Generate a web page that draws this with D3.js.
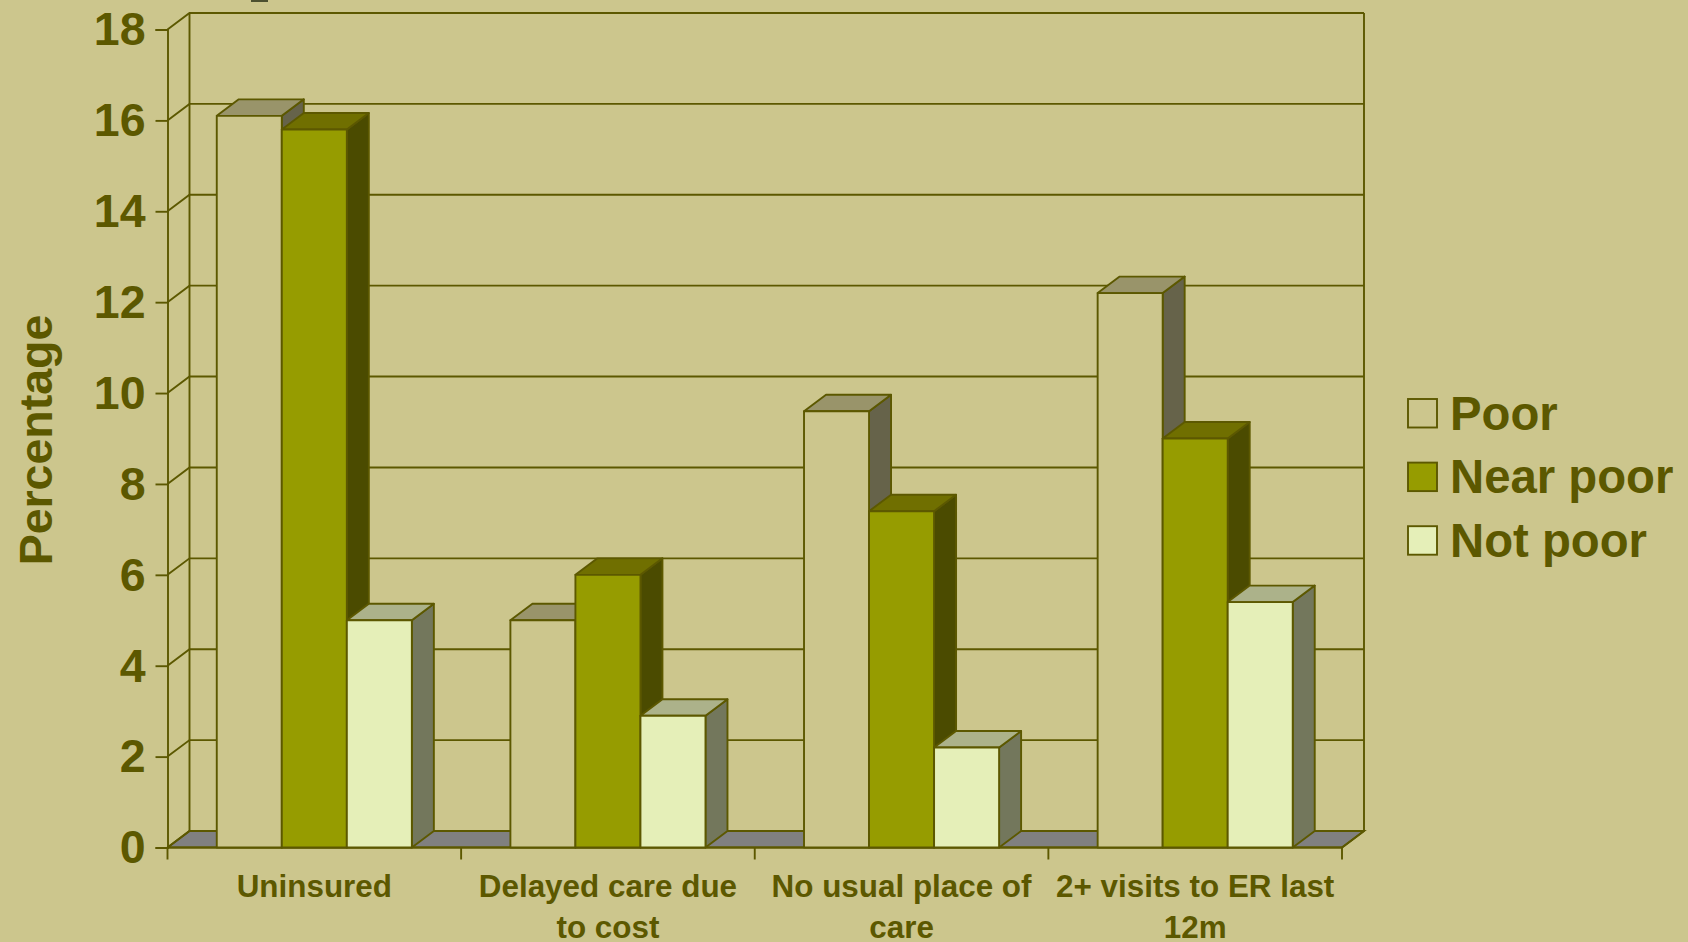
<!DOCTYPE html>
<html>
<head>
<meta charset="utf-8">
<script src="https://cdn.jsdelivr.net/npm/d3@7"></script>
<style>
  html, body { margin: 0; padding: 0; background: #ccc68d; overflow: hidden; }
  text { font-family: "Liberation Sans", Arial, sans-serif; font-weight: bold; fill: #5c5800; }
</style>
</head>
<body>
<svg></svg>
<script>
var categories = ["Uninsured", "Delayed care due to cost", "No usual place of care", "2+ visits to ER last 12m"];
var seriesNames = ["Poor", "Near poor", "Not poor"];
var poor = [16.1, 5.0, 9.6, 12.2];
var nearPoor = [15.8, 6.0, 7.4, 9.0];
var notPoor = [5.0, 2.9, 2.2, 5.4];
var seriesValues = [poor, nearPoor, notPoor];
var yTicks = [0, 2, 4, 6, 8, 10, 12, 14, 16, 18];
var categoryLines = [["Uninsured"], ["Delayed care due", "to cost"], ["No usual place of", "care"], ["2+ visits to ER last", "12m"]];

var width = 1688;
var height = 942;
var line = "#5c5800";
var lineWidth = 1.9;
var depthX = 22;   /*3d offset of the back wall*/
var depthY = 16.5;

// front, top and side colours per series
var faces = [
  {front: "#ccc68d", top: "#99946a", side: "#66634a"},
  {front: "#969c00", top: "#706f00", side: "#4b4b00"},
  {front: "#e5efb8", top: "#acb28a", side: "#73775c"}
];

var svg = d3.select("svg")
            .attr("width", width)
            .attr("height", height)
            .style("display", "block");

var y = d3.scaleLinear().domain([0, 18]).range([847.5, 29.5]);

var x0 = d3.scaleBand()
           .domain(categories)
           .range([167.5, 1342])
           .paddingInner(0.3356)
           .paddingOuter(0.1678);

var x1 = d3.scaleBand()
           .domain(seriesNames)
           .range([0, x0.bandwidth()]);

var left = x0.range()[0];
var right = x0.range()[1];

function poly(points)
{
  return points.map(function(p) { return p.join(","); }).join(" ");
}

/*tail of the heading that runs off the top edge*/
svg.append("rect")
   .attr("x", 251)
   .attr("y", 0)
   .attr("width", 17)
   .attr("height", 2)
   .attr("fill", "#4c5030");

/*grey floor*/
svg.append("polygon")
   .attr("points", poly([[left, y(0)], [left + depthX, y(0) - depthY], [right + depthX, y(0) - depthY], [right, y(0)]]))
   .attr("fill", "#808080")
   .attr("stroke", line)
   .attr("stroke-width", lineWidth);

/*back wall, its gridlines and the slanted side lines*/
var grid = svg.append("g")
              .attr("fill", "none")
              .attr("stroke", line)
              .attr("stroke-width", lineWidth);

grid.selectAll("path")
    .data(yTicks)
    .enter()
    .append("path")
    .attr("d", function(d)
    {
      return "M" + left + "," + y(d) + "L" + (left + depthX) + "," + (y(d) - depthY) + "H" + (right + depthX);
    });

grid.append("path")
    .attr("d", "M" + (left + depthX) + "," + (y(18) - depthY) + "V" + (y(0) - depthY));
grid.append("path")
    .attr("d", "M" + (right + depthX) + "," + (y(18) - depthY) + "V" + (y(0) - depthY) + "L" + right + "," + y(0));

/*y axis*/
var yAxis = d3.axisLeft(y)
              .tickValues(yTicks)
              .tickSize(12)
              .tickPadding(10);

var yGroup = svg.append("g")
                .attr("transform", "translate(" + left + ",0)")
                .call(yAxis);
yGroup.select(".domain").attr("stroke", line).attr("stroke-width", lineWidth);
yGroup.selectAll(".tick line").attr("stroke", line).attr("stroke-width", lineWidth);
yGroup.selectAll(".tick text")
      .attr("font-size", 46.5)
      .attr("font-family", null)
      .attr("dy", "0.33em");

/*x axis baseline with ticks at the category edges*/
svg.append("line")
   .attr("x1", left).attr("x2", right)
   .attr("y1", y(0)).attr("y2", y(0))
   .attr("stroke", line).attr("stroke-width", lineWidth);

svg.selectAll(".xtick")
   .data(d3.range(categories.length + 1))
   .enter()
   .append("line")
   .attr("class", "xtick")
   .attr("x1", function(i) { return left + i * x0.step(); })
   .attr("x2", function(i) { return left + i * x0.step(); })
   .attr("y1", y(0))
   .attr("y2", y(0) + 12)
   .attr("stroke", line)
   .attr("stroke-width", lineWidth);

/*3d bars, drawn left to right so each one covers the side of the last*/
categories.forEach(function(cat, c)
{
  seriesNames.forEach(function(name, s)
  {
    var v = seriesValues[s][c];
    var a = x0(cat) + x1(name);
    var b = a + x1.bandwidth();
    var t = y(v);
    var g = svg.append("g")
               .attr("stroke", line)
               .attr("stroke-width", lineWidth)
               .attr("stroke-linejoin", "round");

    g.append("polygon")
     .attr("points", poly([[b, t], [b + depthX, t - depthY], [b + depthX, y(0) - depthY], [b, y(0)]]))
     .attr("fill", faces[s].side);
    g.append("polygon")
     .attr("points", poly([[a, t], [a + depthX, t - depthY], [b + depthX, t - depthY], [b, t]]))
     .attr("fill", faces[s].top);
    g.append("rect")
     .attr("x", a)
     .attr("y", t)
     .attr("width", b - a)
     .attr("height", y(0) - t)
     .attr("fill", faces[s].front);
  });
});

/*category labels*/
var labels = svg.selectAll(".cat")
                .data(categories)
                .enter()
                .append("text")
                .attr("class", "cat")
                .attr("text-anchor", "middle")
                .attr("font-size", 31.4);

labels.selectAll("tspan")
      .data(function(d, i)
      {
        return categoryLines[i].map(function(t) { return {text: t, cat: d}; });
      })
      .enter()
      .append("tspan")
      .attr("x", function(d) { return x0(d.cat) + x0.bandwidth() / 2; })
      .attr("y", function(d, i) { return 897 + i * 40.5; })
      .text(function(d) { return d.text; });

/*axis title*/
svg.append("text")
   .text("Percentage")
   .attr("text-anchor", "middle")
   .attr("font-size", 46.5)
   .attr("transform", "translate(52,440) rotate(-90)");

/*legend*/
var legend = svg.selectAll(".legend")
                .data(seriesNames)
                .enter()
                .append("g")
                .attr("class", "legend")
                .attr("transform", function(d, i) { return "translate(1408," + (399 + i * 63.6) + ")"; });

legend.append("rect")
      .attr("width", 29)
      .attr("height", 28.5)
      .attr("fill", function(d, i) { return faces[i].front; })
      .attr("stroke", line)
      .attr("stroke-width", lineWidth);

legend.append("text")
      .text(function(d) { return d; })
      .attr("x", 42)
      .attr("y", 30.5)
      .attr("font-size", 47.3);
</script>
</body>
</html>
